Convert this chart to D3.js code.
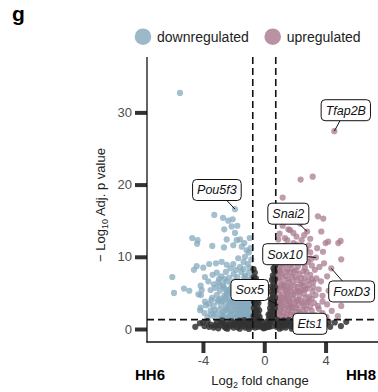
<!DOCTYPE html>
<html>
<head>
<meta charset="utf-8">
<script src="https://cdn.jsdelivr.net/npm/d3@7"></script>
<style>
  body { margin: 0; background: #fff; }
  svg { display: block; font-family: "Liberation Sans", Arial, sans-serif; }
</style>
</head>
<body>
<div id="chart"></div>
<script>
// values (log2 FC, -log10 adj p)
const xTicks = [-4, 0, 4];
const yTicks = [0, 10, 20, 30];
const groupNames = ["downregulated", "upregulated"];
const fcCutoff = 0.75;
const pCutoff = 1.3;

const downregulated = [
  [-5.5,32.7],[-1.91,16.6],[-3.26,15.8],[-2.35,15.0],[-2.06,15.2],[-1.76,14.3],[-2.61,13.8],[-2.69,15.4],
  [-2.13,14.2],[-1.91,13.3],[-2.45,12.4],[-4.7,12.6],[-4.35,12.3],[-4.38,11.8],[-3.39,11.5],[-2.63,11.3],
  [-2.02,11.6],[-1.8,12.3],[-1.58,12.4],[-1.47,11.4],[-1.3,11.9],[-1.26,10.0],[-1.08,9.0],[-1.58,8.6],
  [-4.41,8.7],[-3.98,8.5],[-3.59,9.0],[-3.15,9.1],[-2.78,9.3],[-2.45,8.9],[-2.02,9.0],[-1.7,9.8],
  [-4.59,8.2],[-6.0,7.2],[-5.24,5.6],[-4.89,5.3],[-5.89,5.0],[-4.15,6.0],[-3.87,7.2],[-3.37,7.5],
  [-3.65,6.6],[-4.13,4.7],[-4.19,2.6],[-3.8,3.3],[-4.3,4.8],[-4.08,5.4],[-4.15,2.95],[-3.87,3.8],
  [-1.0,10.6],[-0.9,11.2],[-1.15,10.9],[-0.85,9.6],[-1.35,9.3],[-0.95,12.6],
  [-3.1,7.8],[-2.8,7.3],[-2.5,7.9],[-2.3,7.1],[-2.0,7.6],[-1.75,7.2],[-1.5,7.9],[-1.25,7.4],[-1.0,7.8],
  [-0.85,7.1],[-2.95,6.9],[-1.35,8.3],[-0.95,8.5],[-1.85,8.2],[-2.2,8.4],
  [-3.3,6.2],[-3.0,6.5],[-2.7,6.1],[-2.45,6.6],[-2.15,6.3],[-1.9,6.7],[-1.65,6.2],[-1.4,6.6],[-1.15,6.3],
  [-0.9,6.6],[-0.8,6.1],[-2.6,6.9],[-1.25,6.9],
  [-3.5,5.4],[-3.2,5.7],[-2.9,5.3],[-2.65,5.8],[-2.4,5.2],[-2.2,5.6],[-1.95,5.3],[-1.75,5.8],[-1.55,5.1],
  [-1.35,5.6],[-1.15,5.2],[-0.98,5.7],[-0.82,5.3],[-1.05,5.95],[-2.05,5.9],
  [-3.4,4.3],[-3.1,4.7],[-2.85,4.2],[-2.6,4.6],[-2.35,4.1],[-2.15,4.8],[-1.95,4.4],[-1.78,4.9],[-1.6,4.3],
  [-1.45,4.7],[-1.3,4.2],[-1.15,4.6],[-1.0,4.1],[-0.88,4.8],[-0.8,4.4],[-1.7,4.0],[-2.45,4.9],[-1.2,4.95],
  [-3.6,3.5],[-3.3,3.2],[-3.05,3.8],[-2.8,3.3],[-2.55,3.7],[-2.3,3.2],[-2.1,3.6],[-1.9,3.1],[-1.72,3.5],
  [-1.55,3.9],[-1.4,3.3],[-1.25,3.7],[-1.1,3.2],[-0.97,3.6],[-0.85,3.1],[-0.78,3.8],[-2.0,3.95],[-1.6,3.0],[-1.2,3.95],
  [-3.9,2.2],[-3.5,2.6],[-3.2,2.1],[-2.95,2.7],[-2.7,2.3],[-2.5,2.8],[-2.3,2.2],[-2.1,2.6],[-1.92,2.1],
  [-1.75,2.7],[-1.6,2.3],[-1.45,2.8],[-1.32,2.1],[-1.18,2.5],[-1.05,2.9],[-0.92,2.3],[-0.8,2.7],[-1.5,2.0],[-1.1,2.0],
  [-3.7,1.6],[-3.3,1.8],[-2.95,1.45],[-2.7,1.85],[-2.45,1.5],[-2.2,1.75],[-2.0,1.4],[-1.8,1.8],[-1.62,1.5],
  [-1.45,1.85],[-1.3,1.45],[-1.15,1.7],[-1.0,1.4],[-0.88,1.8],[-0.78,1.5],
  [-2.85,2.0],[-2.6,2.55],[-2.4,3.0],[-2.2,2.4],[-2.0,3.2],[-1.85,2.45],[-1.68,3.2],[-1.52,2.55],[-1.38,3.05],
  [-1.22,2.35],[-1.08,2.7],[-0.95,3.3],[-0.83,2.1],
  [-2.75,3.9],[-2.5,4.4],[-2.25,3.8],[-2.05,4.7],[-1.85,3.75],[-1.65,4.6],[-1.5,3.6],[-1.35,4.45],[-1.2,3.5],
  [-1.05,4.35],[-0.92,3.95],[-0.8,3.4],
  [-2.3,5.4],[-2.1,5.0],[-1.88,5.7],[-1.65,5.45],[-1.45,5.3],[-1.25,5.85],[-1.08,4.95],[-0.9,5.1],[-0.8,5.75],
  [-3.0,4.0],[-3.25,2.6],[-3.45,4.0],[-2.9,6.0],[-2.55,5.5],[-1.55,6.5],[-1.05,6.6],[-0.85,6.9],[-1.3,7.2],
  [-1.62,1.95],[-1.9,1.6],[-2.3,1.6],[-1.22,1.6],[-0.95,2.0],[-2.6,1.6],[-3.5,2.0]
];

const upregulated = [
  [4.57,27.4],[2.37,20.7],[3.16,21.1],[1.2,18.2],[3.5,15.6],[3.85,15.3],[2.8,13.5],[3.37,9.9],[4.37,8.4],
  [3.72,13.5],[4.98,12.2],[4.0,11.9],[3.83,10.7],[5.02,9.65],[3.9,9.1],[5.02,3.2],[4.17,12.1],[4.83,11.9],
  [1.0,13.2],[1.35,12.6],[1.57,13.8],[1.9,13.3],[2.1,12.8],[2.44,12.3],[1.5,12.3],[1.9,11.9],[0.91,12.4],
  [2.33,14.6],[1.68,13.7],[1.2,14.3],[2.6,13.0],[3.0,12.5],
  [0.85,11.2],[1.1,10.6],[1.3,11.5],[1.55,10.3],[1.75,11.0],[2.0,10.5],[2.25,11.3],[2.5,10.2],[2.75,11.0],
  [3.0,10.6],[1.0,10.1],[2.1,11.7],[2.9,11.6],[3.45,11.2],[1.4,10.9],
  [0.8,9.4],[1.0,8.6],[1.2,9.7],[1.4,8.9],[1.6,9.5],[1.8,8.4],[2.0,9.2],[2.2,8.7],[2.45,9.6],[2.65,8.5],
  [2.85,9.3],[3.1,8.8],[3.3,8.2],[0.9,8.1],[1.5,8.2],[2.3,9.9],[3.6,8.6],[3.05,9.7],
  [0.8,7.5],[0.95,6.8],[1.1,7.7],[1.25,6.4],[1.4,7.3],[1.55,6.9],[1.7,7.8],[1.85,6.5],[2.0,7.2],[2.15,6.8],
  [2.3,7.6],[2.5,6.4],[2.65,7.1],[2.85,6.7],[3.0,7.5],[3.2,6.5],[3.4,7.0],[3.7,6.6],[1.05,7.95],[1.95,7.95],
  [2.75,7.9],[4.1,7.3],
  [0.8,5.5],[0.95,4.8],[1.1,5.8],[1.25,4.4],[1.4,5.3],[1.55,4.9],[1.7,5.7],[1.85,4.3],[2.0,5.1],[2.15,5.8],
  [2.3,4.6],[2.45,5.4],[2.6,4.9],[2.8,5.6],[2.95,4.5],[3.15,5.2],[3.35,4.7],[3.55,5.5],[3.8,4.6],[4.2,5.3],
  [1.0,4.1],[1.6,4.1],[2.2,4.05],[0.85,6.0],[1.3,6.0],[2.55,6.0],
  [0.8,3.5],[1.0,3.9],[1.15,3.2],[1.3,3.7],[1.5,3.3],[1.65,3.8],[1.8,3.1],[2.0,3.6],[2.2,3.3],[2.4,3.9],
  [2.6,3.2],[2.8,3.7],[3.0,3.1],[3.25,3.6],[3.5,3.2],[3.8,3.8],[4.1,3.4],[0.92,3.3],
  [0.8,2.5],[0.95,1.9],[1.1,2.8],[1.25,2.2],[1.4,1.6],[1.55,2.6],[1.7,2.0],[1.85,2.9],[2.0,1.5],[2.15,2.4],
  [2.3,1.8],[2.5,2.7],[2.7,2.1],[2.9,1.6],[3.1,2.5],[3.3,1.9],[3.55,2.8],[3.8,2.2],[4.05,1.7],[4.4,2.5],
  [4.8,1.8],[0.85,1.45],[1.6,1.4],
  [0.9,2.2],[1.05,2.5],[1.2,1.8],[1.35,2.9],[1.5,2.1],[1.65,3.0],[1.8,2.4],[1.95,1.9],[2.1,2.9],[2.3,2.3],
  [2.55,1.7],[2.75,2.8],
  [0.88,4.3],[1.05,3.6],[1.2,4.8],[1.35,4.1],[1.5,4.6],[1.7,3.5],[1.9,4.7],[2.1,3.9],[2.3,5.2],[2.5,3.6],
  [2.7,4.3],[2.9,3.8],[3.1,4.2],
  [0.95,5.4],[1.15,6.1],[1.35,5.5],[1.55,5.9],[1.75,5.2],[1.95,6.0],[2.15,5.3],[2.35,6.2],[2.65,5.5],[2.9,6.1],[3.2,5.8],
  [0.9,7.1],[1.2,7.2],[1.45,7.9],[1.6,6.5],[1.8,7.3],[2.4,7.0],[2.55,8.0],[3.1,6.9],[1.15,8.5],[1.7,8.9],
  [2.1,8.1],[2.6,9.1],[0.85,10.5],[1.25,10.2],[1.85,9.9],[2.35,10.8]
];

const notSignificant = [
  [-0.7,8.3],[-0.62,7.8],[-0.68,7.2],[-0.55,7.0],[-0.65,6.5],[-0.58,6.0],[-0.7,5.6],[-0.5,5.3],[-0.62,4.9],
  [-0.55,4.4],[-0.7,4.0],[-0.48,3.8],[-0.6,3.4],[-0.68,2.9],[-0.5,2.7],[-0.58,2.2],[-0.7,1.8],[-0.45,1.6],
  [-0.62,1.2],[-0.52,0.8],[-0.7,0.5],[-0.6,0.2],
  [-0.42,4.5],[-0.38,3.6],[-0.44,3.0],[-0.33,2.6],[-0.4,2.1],[-0.3,1.7],[-0.42,1.3],[-0.35,0.9],[-0.25,0.5],
  [-0.4,0.3],[-0.28,1.2],[-0.45,5.6],
  [-0.15,0.9],[-0.1,0.4],[0,0.2],[0.08,0.6],[0.15,1.0],[-0.05,0.1],[0.2,0.3],
  [0.25,0.6],[0.3,1.4],[0.35,1.9],[0.4,2.4],[0.28,2.0],[0.38,2.9],[0.42,3.5],[0.33,0.3],[0.44,4.1],[0.45,5.2],[0.4,1.1],
  [0.5,0.4],[0.58,1.0],[0.68,1.5],[0.5,1.9],[0.62,2.4],[0.7,2.9],[0.52,3.3],[0.6,3.8],[0.7,4.3],[0.55,4.8],
  [0.66,5.3],[0.5,5.9],[0.62,6.3],[0.7,6.9],[0.56,7.4],[0.68,7.9],[0.6,8.4],[0.72,8.8],[0.5,6.8],
  [-0.66,6.9],[-0.6,5.2],[-0.66,3.7],[-0.52,2.4],[-0.65,1.5],[-0.5,1.1],[-0.35,0.5],[-0.18,0.3],[0.1,0.2],
  [0.3,0.8],[0.5,1.4],[0.6,2.0],[0.66,3.4],[0.55,4.4],[0.7,5.8],[0.62,7.0],[0.66,8.1],[0.58,5.6],[0.48,3.8],[0.52,2.6],
  [-4.5,0.3],[-4.2,0.8],[-3.9,0.4],[-3.7,1.1],[-3.5,0.6],[-3.3,0.2],[-3.1,0.9],[-2.9,0.5],[-2.75,1.2],
  [-2.6,0.3],[-2.45,0.8],[-2.3,0.5],[-2.15,1.1],[-2.0,0.2],[-1.85,0.7],[-1.7,1.0],[-1.55,0.4],[-1.4,0.9],
  [-1.25,0.2],[-1.1,0.6],[-0.95,1.1],[-0.8,0.3],[-1.0,0.0],[-1.6,0.05],[-2.4,0.05],[-3.0,0.1],
  [-0.9,0.7],[-1.3,1.25],[-2.0,0.9],
  [-3.2,0.5],[-2.8,0.85],[-2.5,0.15],[-2.2,0.45],[-1.95,0.55],[-1.75,0.25],[-1.5,0.75],[-1.35,0.45],
  [-1.2,0.95],[-1.05,0.3],[-0.85,0.95],[-0.95,0.5],[-1.6,1.15],[-2.6,0.6],[-3.6,0.3],[-4.0,0.9],
  [0.8,0.3],[0.95,0.9],[1.1,0.5],[1.25,1.2],[1.4,0.2],[1.55,0.8],[1.7,0.4],[1.85,1.1],[2.0,0.6],[2.15,0.2],
  [2.3,0.9],[2.45,0.4],[2.6,1.1],[2.75,0.6],[2.9,0.2],[3.05,0.8],[3.2,0.4],[3.4,1.0],[3.6,0.5],[3.8,0.2],
  [4.0,0.7],[4.3,0.3],[4.6,0.9],[5.0,0.4],[5.35,1.0],[1.0,0.05],[1.8,0.05],[2.6,0.05],[3.3,0.1],
  [1.2,0.85],[2.2,1.25],[1.6,1.25],
  [0.85,0.6],[1.0,0.95],[1.15,0.2],[1.3,0.6],[1.45,1.0],[1.65,0.7],[1.9,0.35],[2.05,1.0],[2.35,0.6],
  [2.55,0.25],[2.85,1.0],[3.0,0.5],[3.5,0.8],[3.9,0.5],[4.2,1.0],[0.9,1.2],[1.4,0.5]
];

// labelled genes: point position and label box centre
const genes = ["Tfap2B", "Pou5f3", "Snai2", "Sox10", "Sox5", "FoxD3", "Ets1"];
const geneFC = [4.57, -1.91, 2.8, 3.37, 0.92, 4.37, 2.6];
const geneP = [27.4, 16.6, 13.5, 9.9, 3.3, 8.4, 1.1];
const labelFC = [5.32, -3.09, 1.57, 1.35, -0.95, 5.7, 2.98];
const labelP = [30.3, 19.25, 15.97, 10.36, 5.4, 5.2, 0.72];

const width = 378, height = 392;
const blue = "#86a9be", pink = "#aa7b8f", grey = "#333333";

const svg = d3.select("#chart").append("svg")
  .attr("width", width)
  .attr("height", height);

const x = d3.scaleLinear().domain([-7.65, 7.42]).range([147, 378]);
const y = d3.scaleLinear().domain([-1.8, 37.67]).range([342, 57]);

// panel letter
svg.append("text").attr("x", 12).attr("y", 21)
  .attr("font-size", 21).attr("font-weight", "bold").text("g");

// legend
const legendX = [143, 272.7];
const legendColors = [blue, pink];
groupNames.forEach((name, i) => {
  svg.append("circle").attr("cx", legendX[i]).attr("cy", 36.7).attr("r", 8.3)
    .attr("fill", legendColors[i]).attr("fill-opacity", 0.82);
  svg.append("text").attr("x", legendX[i] + 14).attr("y", 41.5)
    .attr("font-size", 14).attr("fill", "#222").text(name);
});

// points
function dots(data, color, op) {
  svg.append("g")
    .selectAll("circle")
    .data(data)
    .join("circle")
    .attr("cx", d => x(d[0]))
    .attr("cy", d => y(d[1]))
    .attr("r", 3.1)
    .attr("fill", color)
    .attr("fill-opacity", op);
}
dots(downregulated, blue, 0.75);
dots(upregulated, pink, 0.75);
dots(notSignificant, grey, 0.85);

// threshold lines
const dash = "7,4";
[-fcCutoff, fcCutoff].forEach(v => {
  svg.append("line").attr("x1", x(v)).attr("x2", x(v)).attr("y1", 57).attr("y2", 342)
    .attr("stroke", "#111").attr("stroke-width", 1.6).attr("stroke-dasharray", dash);
});
svg.append("line").attr("x1", 147).attr("x2", 378).attr("y1", y(pCutoff)).attr("y2", y(pCutoff))
  .attr("stroke", "#111").attr("stroke-width", 1.6).attr("stroke-dasharray", dash);

// axes
const yAxis = svg.append("g")
  .attr("transform", "translate(147,0)")
  .call(d3.axisLeft(y).tickValues(yTicks).tickSize(12).tickPadding(3).tickFormat(d => String(d)));
const xAxis = svg.append("g")
  .attr("transform", "translate(0,342)")
  .call(d3.axisBottom(x).tickValues(xTicks).tickSize(11).tickPadding(3).tickFormat(d => String(d)));
[yAxis, xAxis].forEach(g => {
  g.attr("font-size", 13).attr("font-family", "Liberation Sans, Arial, sans-serif");
  g.select(".domain").remove();
  g.selectAll(".tick line").attr("stroke", "#333").attr("stroke-width", 4);
  g.selectAll(".tick text").attr("fill", "#4d4d4d");
});
svg.append("line").attr("x1", 147).attr("x2", 147).attr("y1", 57).attr("y2", 342.6)
  .attr("stroke", "#111").attr("stroke-width", 1.3);
svg.append("line").attr("x1", 146.4).attr("x2", 378).attr("y1", 342).attr("y2", 342)
  .attr("stroke", "#111").attr("stroke-width", 1.3);

// axis titles
const yt = svg.append("text")
  .attr("transform", "translate(105,205) rotate(-90)")
  .attr("text-anchor", "middle").attr("font-size", 13).attr("fill", "#222");
yt.append("tspan").text("\u2212 Log");
yt.append("tspan").attr("font-size", 9).attr("dy", 3).text("10");
yt.append("tspan").attr("dy", -3).text(" Adj. p value");

const xt = svg.append("text")
  .attr("x", 260).attr("y", 385)
  .attr("text-anchor", "middle").attr("font-size", 13).attr("fill", "#222");
xt.append("tspan").text("Log");
xt.append("tspan").attr("font-size", 9).attr("dy", 3).text("2");
xt.append("tspan").attr("dy", -3).text(" fold change");

svg.append("text").attr("x", 150).attr("y", 380).attr("text-anchor", "middle")
  .attr("font-size", 15).attr("font-weight", "bold").text("HH6");
svg.append("text").attr("x", 361).attr("y", 380).attr("text-anchor", "middle")
  .attr("font-size", 15).attr("font-weight", "bold").text("HH8");

// gene labels with connector segments
genes.forEach((name, i) => {
  const cx = x(labelFC[i]), cy = y(labelP[i]);
  const px = x(geneFC[i]), py = y(geneP[i]);
  const g = svg.append("g");
  const t = g.append("text").attr("x", cx).attr("y", cy).attr("dy", "0.35em")
    .attr("text-anchor", "middle").attr("font-size", 12.5).attr("font-style", "italic")
    .attr("fill", "#111").text(name);
  const w = t.node().getComputedTextLength() + 9;
  const h = 21;
  g.insert("rect", "text")
    .attr("x", cx - w / 2).attr("y", cy - h / 2)
    .attr("width", w).attr("height", h).attr("rx", 4)
    .attr("fill", "#fff").attr("stroke", "#111").attr("stroke-width", 1);
  const dx = px - cx, dy = py - cy;
  const s = Math.min(dx ? (w / 2) / Math.abs(dx) : Infinity, dy ? (h / 2) / Math.abs(dy) : Infinity);
  if (s < 1) {
    g.insert("line", "rect")
      .attr("x1", px).attr("y1", py)
      .attr("x2", cx + dx * s).attr("y2", cy + dy * s)
      .attr("stroke", "#111").attr("stroke-width", 1);
  }
});
</script>
</body>
</html>
